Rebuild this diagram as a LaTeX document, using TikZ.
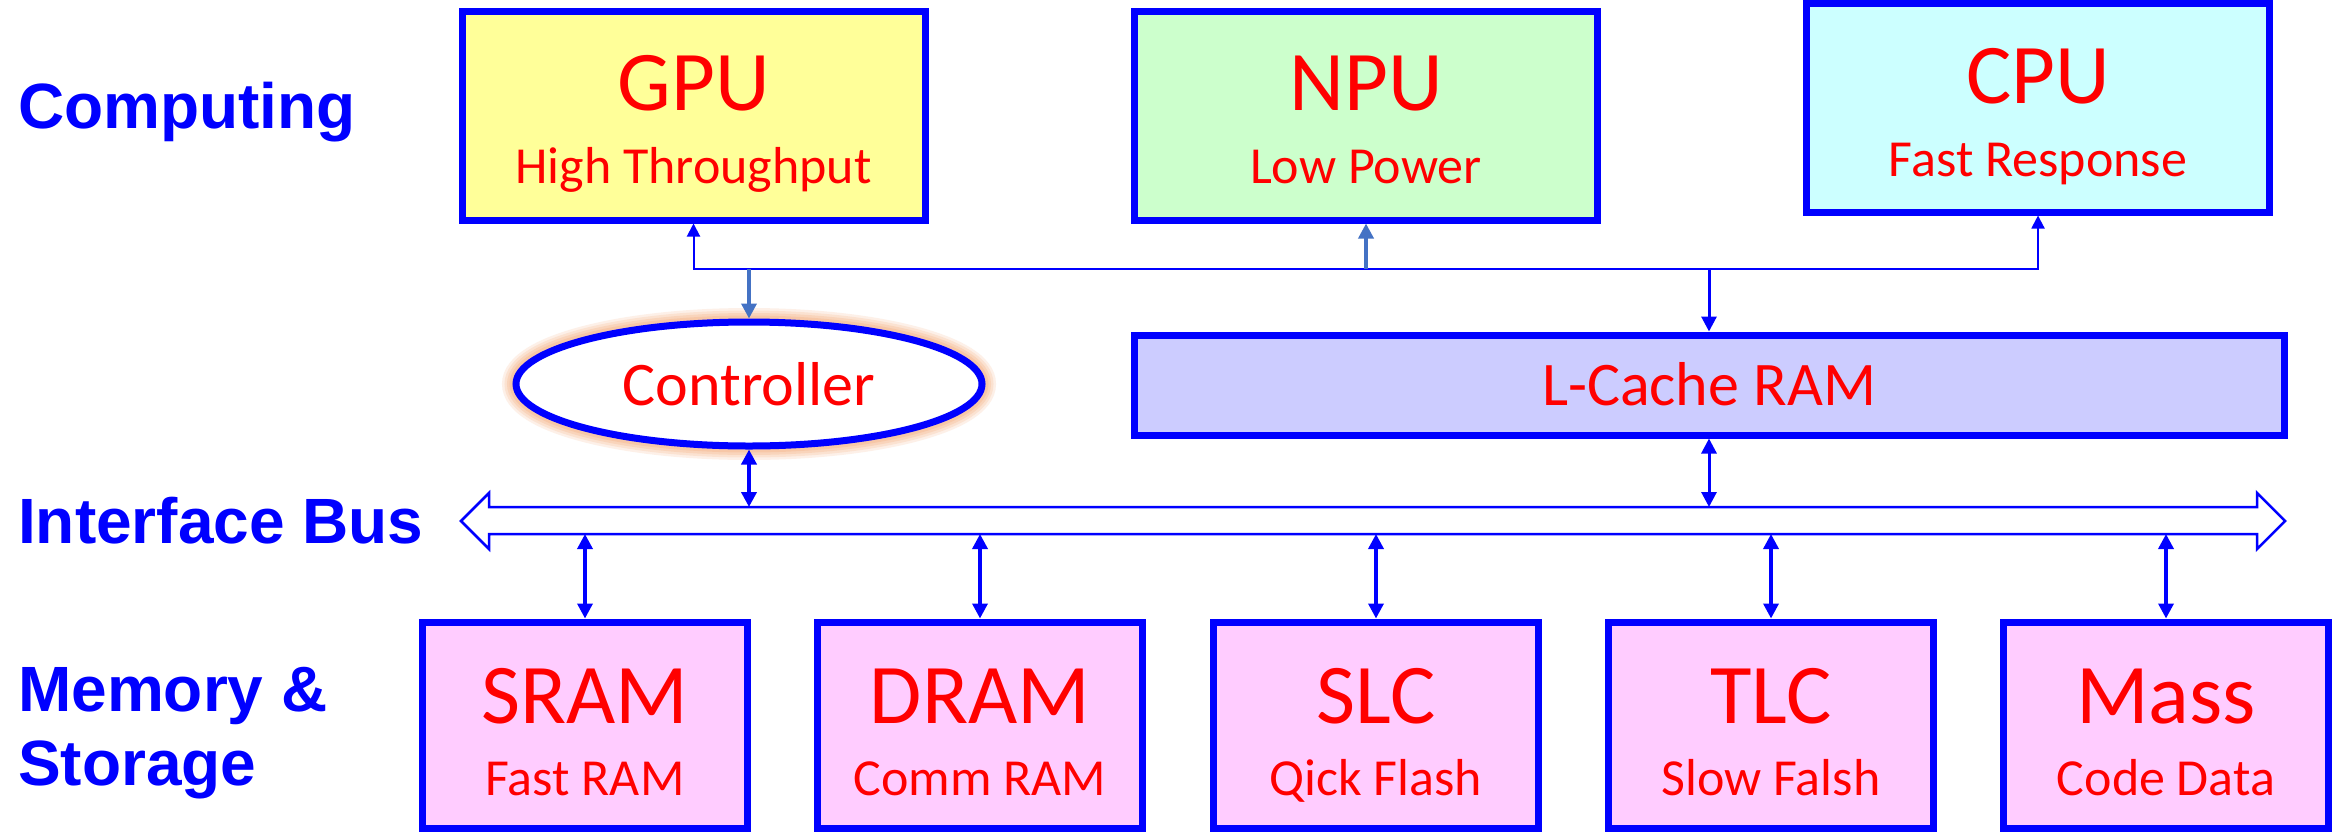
\documentclass[tikz,border=0pt]{standalone}
\usepackage{fontspec}
\setmainfont{Carlito}
\newfontfamily\labfont{Liberation Sans}
\usetikzlibrary{arrows.meta,shapes.geometric}

\definecolor{pblue}{HTML}{0000FF}
\definecolor{pred}{HTML}{FF0000}
\definecolor{steel}{HTML}{4472C4}
\definecolor{glow}{HTML}{F4B183}
\definecolor{fgpu}{HTML}{FFFF99}
\definecolor{fnpu}{HTML}{CCFFCC}
\definecolor{fcpu}{HTML}{CCFFFF}
\definecolor{fcache}{HTML}{CCCCFF}
\definecolor{fmem}{HTML}{FFCCFF}

\begin{document}
\begin{tikzpicture}[x=1pt,y=-1pt,
  unit/.style={draw=pblue, line width=7pt, inner sep=0pt},
  topunit/.style={unit, minimum width=463pt, minimum height=209pt},
  memunit/.style={unit, fill=fmem, minimum width=325pt, minimum height=206pt},
  big/.style={text=pred, anchor=base, inner sep=0pt, font=\fontsize{85}{90}\selectfont},
  small/.style={text=pred, anchor=base, inner sep=0pt, font=\fontsize{52}{56}\selectfont},
  mid/.style={text=pred, anchor=base, inner sep=0pt, font=\fontsize{62}{66}\selectfont},
  tag/.style={text=pblue, anchor=base west, inner sep=0pt, font=\labfont\bfseries\fontsize{64}{68}\selectfont},
  trunkline/.style={pblue, line width=2pt, line join=miter,
    {Triangle[width=13pt,length=13pt]}-{Triangle[width=13pt,length=13pt]}},
  feed/.style={steel, line width=3.5pt, -{Triangle[width=15pt,length=15pt]}},
  down/.style={pblue, line width=3pt, -{Triangle[width=15pt,length=15pt]}},
  link/.style={pblue, line width=3.5pt,
    {Triangle[width=15pt,length=15pt]}-{Triangle[width=15pt,length=15pt]}}
]
% canvas
\useasboundingbox (0,0) rectangle (2336,833);
\fill[white] (0,0) rectangle (2336,833);

% row labels
\node[tag] (lcomp) at (18,128) {Computing};
\node[tag] (lbus)  at (18,543) {Interface Bus};
\node[tag] (lmem1) at (18,711) {Memory \&};
\node[tag] (lmem2) at (18,785) {Storage};

% computing units
\node[topunit, fill=fgpu] (gpu) at (693.5,115.5) {};
\node[big]   (gpuT) at (693.5,110) {GPU};
\node[small] (gpuS) at (693.5,183) {High Throughput};

\node[topunit, fill=fnpu] (npu) at (1366,115.5) {};
\node[big]   (npuT) at (1366,110) {NPU};
\node[small] (npuS) at (1366,183) {Low Power};

\node[topunit, fill=fcpu] (cpu) at (2038,107.5) {};
\node[big]   (cpuT) at (2038,103) {CPU};
\node[small] (cpuS) at (2038,176) {Fast Response};

% controller with soft halo
\foreach \w/\o in {28/0.18,23/0.22,18/0.28,13/0.35} {
  \draw[glow, line width=\w pt, opacity=\o] (749,384) ellipse [x radius=233pt, y radius=62pt];
}
\node[ellipse, draw=pblue, line width=7pt, fill=white, inner sep=0pt,
      minimum width=466pt, minimum height=124pt] (ctrl) at (749,384) {};
\node[mid] (ctrlT) at (749,405) {Controller};

% cache
\node[unit, fill=fcache, minimum width=1150pt, minimum height=100pt] (cache) at (1709,385) {};
\node[mid] (cacheT) at (1709,405) {L-Cache RAM};

% memory and storage units
\node[memunit] (sram) at (585,725) {};
\node[big]   (sramT) at (585,723) {SRAM};
\node[small] (sramS) at (585,795) {Fast RAM};

\node[memunit] (dram) at (980,725) {};
\node[big]   (dramT) at (980,723) {DRAM};
\node[small] (dramS) at (980,795) {Comm RAM};

\node[memunit] (slc) at (1376,725) {};
\node[big]   (slcT) at (1376,723) {SLC};
\node[small] (slcS) at (1376,795) {Qick Flash};

\node[memunit] (tlc) at (1771,725) {};
\node[big]   (tlcT) at (1771,723) {TLC};
\node[small] (tlcS) at (1771,795) {Slow Falsh};

\node[memunit] (mass) at (2166,725) {};
\node[big]   (massT) at (2166,723) {Mass};
\node[small] (massS) at (2166,795) {Code Data};

% interface bus (double block arrow)
\coordinate (busT) at (0,507);
\coordinate (busB) at (0,534);
\draw[pblue, line width=2.5pt, fill=white, line join=miter]
  (461,521) -- (489,493) -- (489,507) -- (2257,507) -- (2257,493) -- (2285,521)
  -- (2257,549) -- (2257,534) -- (489,534) -- (489,549) -- cycle;

% computing trunk
\coordinate (trunk) at (0,269);
\draw[trunkline] (gpu.south) -- (gpu.south |- trunk) -- (cpu.south |- trunk) -- (cpu.south);
\draw[feed] (npu.south |- trunk) -- (npu.south);
\draw[feed] (ctrl.north |- trunk) -- (ctrl.north);
\draw[down] (cache.north |- trunk) -- (cache.north);

% bus links
\draw[link, line width=4pt] (ctrl.south) -- (ctrl.south |- busT);
\draw[link, line width=3pt] (cache.south) -- (cache.south |- busT);
\foreach \m in {sram,dram,slc,tlc,mass} {
  \draw[link] (\m.north |- busB) -- (\m.north);
}
\end{tikzpicture}
\end{document}
